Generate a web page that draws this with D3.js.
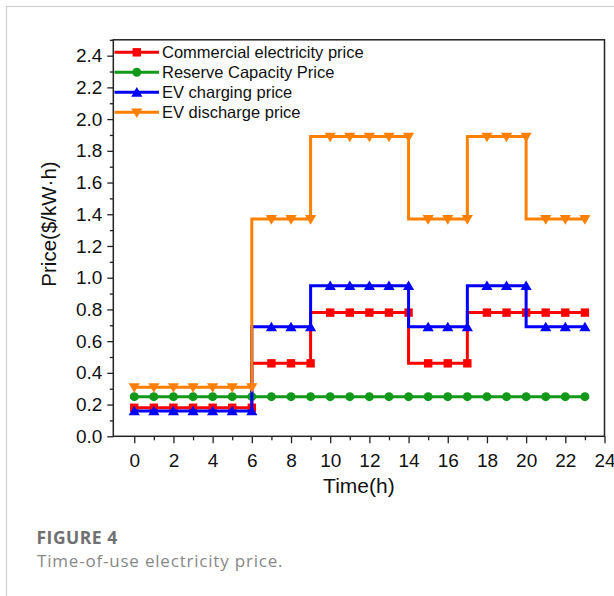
<!DOCTYPE html>
<html>
<head>
<meta charset="utf-8">
<script src="https://cdn.jsdelivr.net/npm/d3@7"></script>
<style>
  html, body { margin: 0; padding: 0; background: #fff; }
  svg { display: block; }
</style>
</head>
<body>
<svg id="chart" width="614" height="596"></svg>
<script>
// ---- data ----
const hours = [0,1,2,3,4,5,6,7,8,9,10,11,12,13,14,15,16,17,18,19,20,21,22,23];
const commercialPrice = [0.18,0.18,0.18,0.18,0.18,0.18,0.18,0.46,0.46,0.46,0.78,0.78,0.78,0.78,0.78,0.46,0.46,0.46,0.78,0.78,0.78,0.78,0.78,0.78];
const reservePrice    = [0.25,0.25,0.25,0.25,0.25,0.25,0.25,0.25,0.25,0.25,0.25,0.25,0.25,0.25,0.25,0.25,0.25,0.25,0.25,0.25,0.25,0.25,0.25,0.25];
const evChargePrice   = [0.16,0.16,0.16,0.16,0.16,0.16,0.16,0.69,0.69,0.69,0.95,0.95,0.95,0.95,0.95,0.69,0.69,0.69,0.95,0.95,0.95,0.69,0.69,0.69];
const evDischargePrice= [0.31,0.31,0.31,0.31,0.31,0.31,0.31,1.37,1.37,1.37,1.89,1.89,1.89,1.89,1.89,1.37,1.37,1.37,1.89,1.89,1.89,1.37,1.37,1.37];
const seriesNames = ["Commercial electricity price","Reserve Capacity Price","EV charging price","EV discharge price"];
const seriesValues = [commercialPrice, reservePrice, evChargePrice, evDischargePrice];
const seriesColors = ["#ff0000","#12991a","#0000ff","#ff8000"];
const seriesMarkers = ["square","circle","triUp","triDown"];
const xTicks = [0,2,4,6,8,10,12,14,16,18,20,22,24];
const yTicks = [0.0,0.2,0.4,0.6,0.8,1.0,1.2,1.4,1.6,1.8,2.0,2.2,2.4];
const xLabel = "Time(h)";
const yLabel = "Price($/kW·h)";
const figLabel = "FIGURE 4";
const figCaption = "Time-of-use electricity price.";

// ---- layout ----
const svg = d3.select("#chart");
const L = 113.3, R = 604.5, T = 39.8, B = 436.3;
const x = d3.scaleLinear().domain([-1.07, 24]).range([L, R]);
const y = d3.scaleLinear().domain([0, 2.5]).range([B, T]);

// card border
svg.append("rect").attr("x", 6.5).attr("y", 6.5).attr("width", 700).attr("height", 700)
  .attr("fill", "none").attr("stroke", "#cfcfcf").attr("stroke-width", 1.2);

const axisFont = "'Liberation Sans', Arial, sans-serif";

// minor ticks
const yMinor = yTicks.map(v => +(v + 0.1).toFixed(2));
const xMinor = xTicks.slice(0, -1).map(v => v + 1);

const gx = svg.append("g").attr("transform", `translate(0,${B})`)
  .call(d3.axisBottom(x).tickValues(xTicks).tickSize(7).tickPadding(10).tickFormat(d3.format("d")));
const gxm = svg.append("g").attr("transform", `translate(0,${B})`)
  .call(d3.axisBottom(x).tickValues(xMinor).tickSize(4).tickFormat(""));
const gy = svg.append("g").attr("transform", `translate(${L},0)`)
  .call(d3.axisLeft(y).tickValues(yTicks).tickSize(6).tickPadding(5).tickFormat(d3.format(".1f")));
const gym = svg.append("g").attr("transform", `translate(${L},0)`)
  .call(d3.axisLeft(y).tickValues(yMinor).tickSize(3.5).tickFormat(""));
[gx, gxm, gy, gym].forEach(g => {
  g.select(".domain").remove();
  g.selectAll("line").attr("stroke", "#222").attr("stroke-width", 1.3);
  g.selectAll("text").attr("font-family", axisFont).attr("font-size", 19).attr("fill", "#111");
});

// frame
svg.append("rect").attr("x", L).attr("y", T).attr("width", R - L).attr("height", B - T)
  .attr("fill", "none").attr("stroke", "#222").attr("stroke-width", 1.5);

// marker drawing
function marker(g, type, color) {
  if (type === "square") {
    g.append("rect").attr("x", -4.2).attr("y", -4.2).attr("width", 8.4).attr("height", 8.4).attr("fill", color);
  } else if (type === "circle") {
    g.append("circle").attr("r", 4.5).attr("fill", color);
  } else if (type === "triUp") {
    g.append("path").attr("d", "M0,-5.2L5.6,4.4L-5.6,4.4Z").attr("fill", color);
  } else {
    g.append("path").attr("d", "M0,5.7L5.6,-3.9L-5.6,-3.9Z").attr("fill", color);
  }
}

const plot = svg.append("g");
seriesValues.forEach((vals, i) => {
  const pts = hours.map((h, j) => [h, vals[j]]);
  const line = d3.line().x(d => x(d[0])).y(d => y(d[1])).curve(d3.curveStepBefore);
  plot.append("path").attr("d", line(pts)).attr("fill", "none")
    .attr("stroke", seriesColors[i]).attr("stroke-width", 3);
  pts.forEach(p => {
    const g = plot.append("g").attr("transform", `translate(${x(p[0])},${y(p[1])})`);
    marker(g, seriesMarkers[i], seriesColors[i]);
  });
});

// legend
const lg = svg.append("g");
seriesNames.forEach((name, i) => {
  const cy = 52.3 + i * 20;
  lg.append("line").attr("x1", 114.5).attr("x2", 159).attr("y1", cy).attr("y2", cy)
    .attr("stroke", seriesColors[i]).attr("stroke-width", 3);
  const g = lg.append("g").attr("transform", `translate(136.8,${cy})`);
  marker(g, seriesMarkers[i], seriesColors[i]);
  lg.append("text").attr("x", 162).attr("y", cy + 5.8).text(name)
    .attr("font-family", axisFont).attr("font-size", 16.5).attr("fill", "#111");
});

// axis titles
svg.append("text").attr("x", (L + R) / 2).attr("y", 493.3).attr("text-anchor", "middle")
  .attr("font-family", axisFont).attr("font-size", 21).attr("fill", "#111").text(xLabel);
svg.append("text").attr("transform", "translate(56,224) rotate(-90)").attr("text-anchor", "middle")
  .attr("font-family", axisFont).attr("font-size", 20.5).attr("fill", "#111").text(yLabel);

// caption
svg.append("text").attr("x", 36.5).attr("y", 544).text(figLabel)
  .attr("font-family", "'Open Sans', Lato, sans-serif").attr("font-weight", 700)
  .attr("font-size", 17.5).attr("letter-spacing", 0.5).attr("fill", "#707070");
svg.append("text").attr("x", 37).attr("y", 567).text(figCaption)
  .attr("font-family", "'Open Sans', Lato, sans-serif").attr("font-weight", 400)
  .attr("font-size", 17).attr("letter-spacing", 0.8).attr("fill", "#888888");
</script>
</body>
</html>
